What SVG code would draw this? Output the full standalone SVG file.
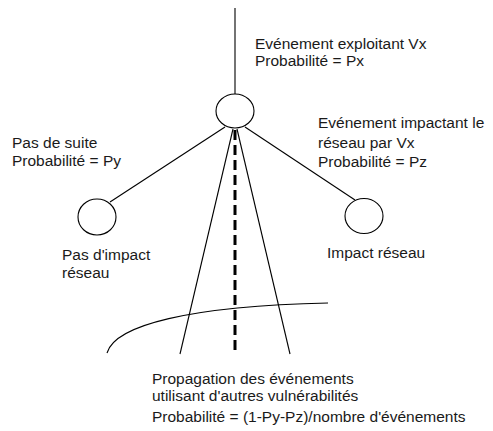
<svg xmlns="http://www.w3.org/2000/svg" width="493" height="431" viewBox="0 0 493 431">
  <style>
    .node { fill: #ffffff; stroke: #000000; stroke-width: 1.1; }
    .edge { fill: none; stroke: #000000; stroke-width: 1.1; }
    .dash { fill: none; stroke: #000000; stroke-width: 3; stroke-dasharray: 10 5; }
    text { font-family: "Liberation Sans", Arial, sans-serif; font-size: 15.5px; fill: #1a1a1a; }
  </style>
  <rect width="493" height="431" fill="#ffffff"/>

  <!-- connectors -->
  <g id="connectors">
    <line class="edge" x1="235" y1="8" x2="235" y2="94"/>
    <line class="edge" x1="225" y1="127" x2="110" y2="202"/>
    <line class="edge" x1="245" y1="127" x2="355" y2="200"/>
    <line class="edge" x1="233" y1="129" x2="180" y2="354"/>
    <line class="edge" x1="237" y1="129" x2="290" y2="354"/>
    <line class="dash" x1="235" y1="130" x2="235" y2="354"/>
    <path class="edge" d="M107,353 C115,325 190,306 328,303"/>
  </g>

  <!-- exploited event -->
  <g id="event">
    <ellipse class="node" cx="235" cy="111" rx="19" ry="17"/>
    <text x="255" y="49">Evénement exploitant Vx</text>
    <text x="255" y="66">Probabilité = Px</text>
  </g>

  <!-- no network impact -->
  <g id="no-impact">
    <ellipse class="node" cx="97" cy="217" rx="19" ry="18"/>
    <text x="12" y="148">Pas de suite</text>
    <text x="12" y="166">Probabilité = Py</text>
    <text x="62" y="260">Pas d'impact</text>
    <text x="62" y="278">réseau</text>
  </g>

  <!-- network impact -->
  <g id="impact">
    <ellipse class="node" cx="364" cy="216" rx="19" ry="17.5"/>
    <text x="318" y="128">Evénement impactant le</text>
    <text x="318" y="148">réseau par Vx</text>
    <text x="318" y="167">Probabilité = Pz</text>
    <text x="327" y="258">Impact réseau</text>
  </g>

  <!-- propagation -->
  <g id="propagation">
    <text x="152" y="384">Propagation des événements</text>
    <text x="152" y="401">utilisant d'autres vulnérabilités</text>
    <text x="152" y="422">Probabilité = (1-Py-Pz)/nombre d'événements</text>
  </g>
</svg>
